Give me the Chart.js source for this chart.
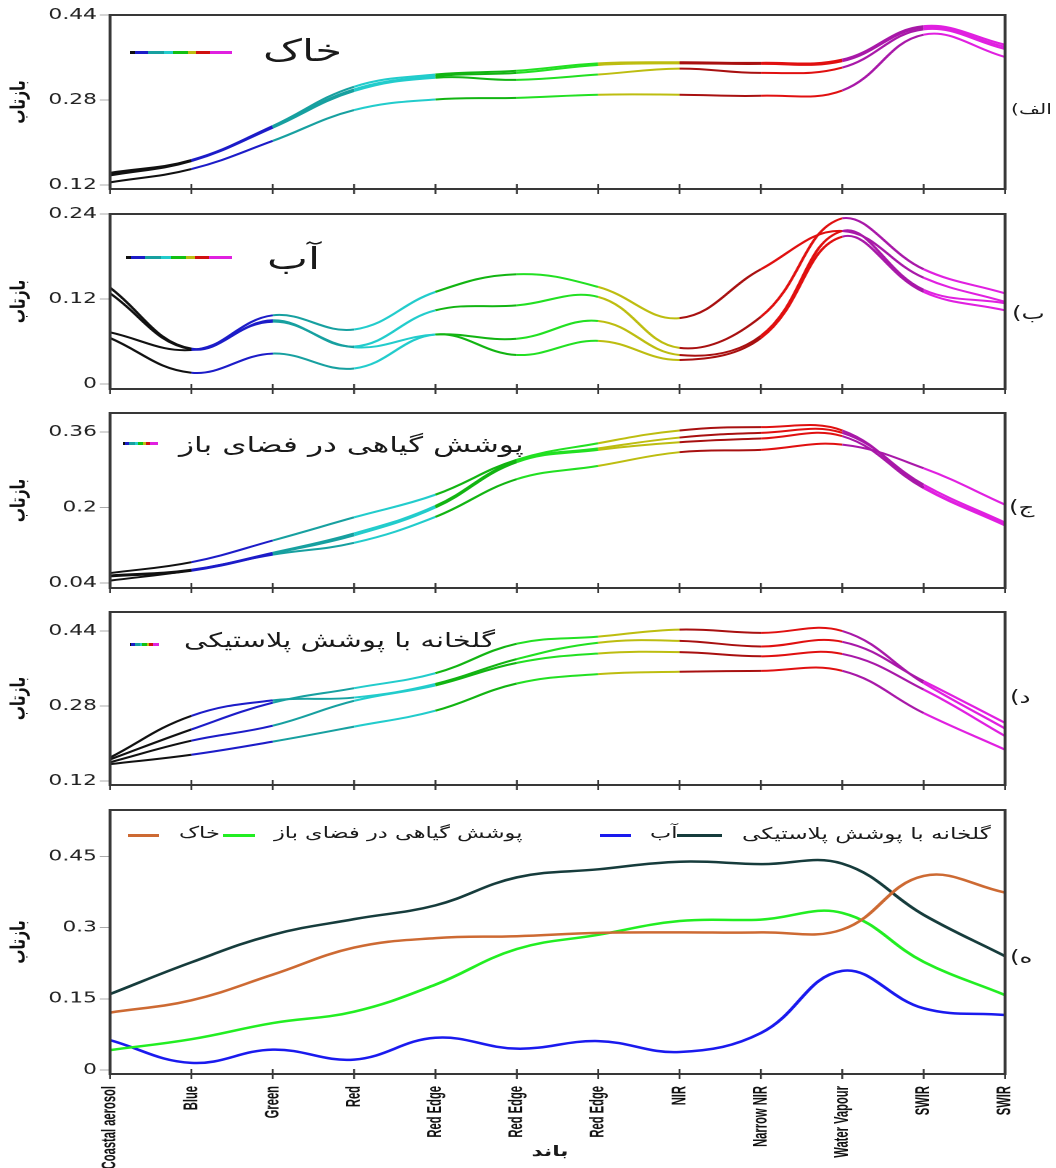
<!DOCTYPE html>
<html>
<head>
<meta charset="utf-8">
<script src="https://cdn.jsdelivr.net/npm/chart.js@4.4.1/dist/chart.umd.min.js"></script>
<style>
  html, body { margin: 0; padding: 0; background: #fff; }
  body { width: 1056px; height: 1168px; position: relative; overflow: hidden; font-family: 'DejaVu Sans', sans-serif; color: #1a1a1a; }
  #plots { position: absolute; left: 0; top: 0; width: 728px; height: 1168px; transform-origin: 0 0; }
  #plots canvas { position: absolute; left: 0; }
  .txt { position: absolute; white-space: nowrap; line-height: 1; }
  .bar { position: absolute; height: 3px; }
</style>
</head>
<body>
<div id="plots"></div>
<script>
"use strict";

// ---- data ----
const bands = ["Coastal aerosol", "Blue", "Green", "Red", "Red Edge", "Red Edge", "Red Edge",
               "NIR", "Narrow NIR", "Water Vapour", "SWIR", "SWIR"];

// colour of each band-to-band segment in the four upper panels
const bandColors = ["#111111", "#1c1cc8", "#17a0a0", "#22cccc", "#12b412", "#22e022",
                    "#bdbd10", "#a81010", "#e01010", "#a818a8", "#e020e0"];

// (الف) soil samples
const soil1 = [0.143, 0.167, 0.231, 0.305, 0.328, 0.335, 0.349, 0.351, 0.350, 0.356, 0.419, 0.384];
const soil2 = [0.140, 0.166, 0.229, 0.300, 0.325, 0.331, 0.346, 0.349, 0.348, 0.353, 0.416, 0.380];
const soil3 = [0.138, 0.165, 0.228, 0.297, 0.322, 0.318, 0.328, 0.339, 0.331, 0.341, 0.413, 0.376];
const soil4 = [0.125, 0.150, 0.203, 0.261, 0.281, 0.284, 0.290, 0.290, 0.288, 0.298, 0.403, 0.361];

// (ب) water samples
const water1 = [0.136, 0.050, 0.097, 0.077, 0.130, 0.155, 0.137, 0.093, 0.162, 0.216, 0.150, 0.116];
const water2 = [0.128, 0.049, 0.090, 0.053, 0.104, 0.111, 0.123, 0.051, 0.095, 0.234, 0.162, 0.128];
const water3 = [0.073, 0.048, 0.088, 0.052, 0.070, 0.064, 0.089, 0.041, 0.068, 0.216, 0.133, 0.114];
const water4 = [0.065, 0.016, 0.043, 0.022, 0.070, 0.041, 0.061, 0.034, 0.065, 0.208, 0.130, 0.104];

// (ج) open-field vegetation samples
const veg1 = [0.061, 0.084, 0.130, 0.179, 0.227, 0.301, 0.336, 0.363, 0.370, 0.363, 0.243, 0.165];
const veg2 = [0.056, 0.068, 0.104, 0.145, 0.203, 0.299, 0.325, 0.348, 0.358, 0.358, 0.248, 0.168];
const veg3 = [0.054, 0.066, 0.102, 0.141, 0.200, 0.296, 0.322, 0.338, 0.346, 0.351, 0.241, 0.162];
const veg4 = [0.045, 0.067, 0.100, 0.125, 0.180, 0.260, 0.288, 0.317, 0.322, 0.333, 0.283, 0.206];

// (د) plastic greenhouse samples
const gh1 = [0.166, 0.230, 0.287, 0.318, 0.350, 0.413, 0.428, 0.443, 0.436, 0.440, 0.329, 0.232];
const gh2 = [0.170, 0.259, 0.292, 0.298, 0.327, 0.380, 0.415, 0.419, 0.407, 0.417, 0.333, 0.244];
const gh3 = [0.160, 0.206, 0.238, 0.291, 0.324, 0.372, 0.392, 0.395, 0.386, 0.391, 0.315, 0.216];
const gh4 = [0.156, 0.176, 0.204, 0.236, 0.270, 0.328, 0.348, 0.353, 0.355, 0.355, 0.265, 0.187];

// (ه) class means
const meanSoil  = [0.121, 0.147, 0.201, 0.258, 0.278, 0.282, 0.289, 0.290, 0.290, 0.296, 0.409, 0.374];
const meanVeg   = [0.042, 0.065, 0.099, 0.123, 0.180, 0.255, 0.285, 0.314, 0.317, 0.331, 0.228, 0.158];
const meanWater = [0.063, 0.015, 0.043, 0.022, 0.068, 0.045, 0.061, 0.038, 0.078, 0.209, 0.130, 0.116];
const meanGh    = [0.160, 0.227, 0.285, 0.318, 0.347, 0.406, 0.423, 0.439, 0.434, 0.435, 0.327, 0.240];

const ticksSoil  = [0.12, 0.28, 0.44];
const ticksWater = [0, 0.12, 0.24];
const ticksVeg   = [0.04, 0.2, 0.36];
const ticksGh    = [0.12, 0.28, 0.44];
const ticksMean  = [0, 0.15, 0.3, 0.45];

const meanNames  = ["خاک", "پوشش گیاهی در فضای باز", "آب", "گلخانه با پوشش پلاستیکی"];

// ---- layout ----
// the figure is horizontally stretched; plots are drawn narrow and scaled up
const W = 728;
const S = 1056 / W;
const plotLeft = 110 / S;
const plotRight = 1005 / S;

const holder = document.getElementById("plots");
holder.style.transform = "scaleX(" + S + ")";

Chart.defaults.font.family = "'DejaVu Sans', sans-serif";
Chart.defaults.color = "#222";

// box round the plot, ticks crossing the x axis, and (bottom panel) band names
const frame = {
    id: "frame",
    afterDraw(chart, args, opts) {
        const ctx = chart.ctx;
        const a = chart.chartArea;
        const x = chart.scales.x;
        ctx.save();
        ctx.strokeStyle = "#383838";
        ctx.lineWidth = 2;
        ctx.strokeRect(a.left, a.top, a.right - a.left, a.bottom - a.top);
        ctx.lineWidth = 1.3;
        for (let i = 0; i < x.ticks.length; i++) {
            const px = x.getPixelForTick(i);
            ctx.beginPath();
            ctx.moveTo(px, a.bottom - 5);
            ctx.lineTo(px, a.bottom + 5);
            ctx.stroke();
        }
        if (opts.bandNames) {
            ctx.fillStyle = "#111";
            ctx.font = "bold 11.2px 'Liberation Sans', Arial, sans-serif";
            ctx.textAlign = "right";
            ctx.textBaseline = "middle";
            for (let i = 0; i < x.ticks.length; i++) {
                ctx.save();
                ctx.translate(x.getPixelForTick(i), a.bottom + 12);
                ctx.rotate(-Math.PI / 2);
                ctx.scale(1, 1.25);
                ctx.fillText(x.getLabelForValue(i), 0, 0);
                ctx.restore();
            }
        }
        ctx.restore();
    }
};

function makePanel(p, datasets, showBands) {
    const pad = 12;
    const axisH = showBands ? 1168 - p.bottom : 12;
    const canvas = document.createElement("canvas");
    canvas.width = W;
    canvas.height = p.bottom - p.top + pad + axisH;
    canvas.style.top = (p.top - pad) + "px";
    holder.appendChild(canvas);

    return new Chart(canvas, {
        type: "line",
        data: { labels: bands, datasets: datasets },
        options: {
            responsive: false,
            animation: false,
            devicePixelRatio: 2,
            layout: { padding: { top: pad, right: W - plotRight, left: 0, bottom: 0 } },
            plugins: {
                legend: { display: false },
                tooltip: { enabled: false },
                frame: { bandNames: showBands }
            },
            elements: { point: { radius: 0 }, line: { tension: 0.4, borderWidth: 2 } },
            scales: {
                x: {
                    offset: false,
                    grid: { display: false, drawTicks: false },
                    border: { display: false },
                    ticks: { display: false },
                    afterFit(s) { s.height = axisH; s.paddingLeft = 0; s.paddingRight = 0; }
                },
                y: {
                    min: p.min,
                    max: p.max,
                    grid: { drawOnChartArea: false, drawTicks: true, tickLength: 7, color: "#aaa" },
                    border: { display: false },
                    afterBuildTicks(s) { s.ticks = p.ticks.map(v => ({ value: v })); },
                    ticks: { padding: 2, color: "#222", font: { size: 15 }, callback: v => String(v) },
                    title: {
                        display: true,
                        text: "بازتاب",
                        color: "#111",
                        font: { size: 14, weight: "bold" },
                        padding: { top: 5, bottom: 0 }
                    },
                    afterFit(s) { s.width = plotLeft; s.paddingTop = 0; s.paddingBottom = 0; }
                }
            }
        },
        plugins: [frame]
    });
}

function bandLines(list) {
    return list.map(values => ({
        data: values,
        borderColor: bandColors[0],
        segment: { borderColor: c => bandColors[c.p0DataIndex] }
    }));
}

makePanel({ top: 15, bottom: 189, min: 0.1125, max: 0.44, ticks: ticksSoil },
          bandLines([soil4, soil3, soil2, soil1]), false);
makePanel({ top: 214, bottom: 389, min: -0.007, max: 0.24, ticks: ticksWater },
          bandLines([water4, water3, water2, water1]), false);
makePanel({ top: 413, bottom: 588, min: 0.0294, max: 0.40, ticks: ticksVeg },
          bandLines([veg4, veg3, veg2, veg1]), false);
makePanel({ top: 612, bottom: 785, min: 0.1115, max: 0.4805, ticks: ticksGh },
          bandLines([gh4, gh3, gh2, gh1]), false);

const meanColors = ["#cd6a33", "#22ee22", "#1a1aee", "#163c3c"];
makePanel({ top: 810, bottom: 1074, min: -0.0084, max: 0.548, ticks: ticksMean },
          [meanSoil, meanVeg, meanWater, meanGh].map((values, i) => ({
              label: meanNames[i],
              data: values,
              borderColor: meanColors[i],
              borderWidth: 2.5
          })), true);

// ---- overlay text (stretched like the plots) ----
function addText(str, x, y, size, opts) {
    const o = opts || {};
    const d = document.createElement("div");
    d.className = "txt";
    d.dir = "rtl";
    d.textContent = str;
    d.style.fontSize = size + "px";
    d.style.top = (y - size * 0.55) + "px";
    if (o.bold) d.style.fontWeight = "bold";
    if (o.center) {
        d.style.left = (x - 100) + "px";
        d.style.width = "200px";
        d.style.textAlign = "center";
        d.style.transformOrigin = "50% 50%";
    } else {
        d.style.left = x + "px";
        d.style.transformOrigin = "0 50%";
    }
    d.style.transform = "scaleX(" + S + ")";
    document.body.appendChild(d);
}

function addBar(x1, x2, y, bg) {
    const d = document.createElement("div");
    d.className = "bar";
    d.style.left = x1 + "px";
    d.style.width = (x2 - x1) + "px";
    d.style.top = (y - 1.5) + "px";
    d.style.background = bg;
    document.body.appendChild(d);
}

const rainbow = "linear-gradient(to right, #111 0 5%, #1c1cc8 5% 18%, #17a0a0 18% 33%, #22cccc 33% 42%, " +
                "#12c012 42% 57%, #bdbd10 57% 65%, #d01010 65% 78%, #e020e0 78% 100%)";

addBar(130, 232, 52, rainbow);
addText("خاک", 263, 52, 30);
addBar(126, 232, 257, rainbow);
addText("آب", 267, 260, 30);
addBar(123, 158, 443, rainbow);
addText("پوشش گیاهی در فضای باز", 179, 446, 21.5);
addBar(130, 159, 644, rainbow);
addText("گلخانه با پوشش پلاستیکی", 184, 641, 20);

// legend of the mean panel: line start, line end, text start
const legendSpots = [[128, 159, 179], [223, 255, 274], [600, 631, 650], [677, 722, 742]];
meanNames.forEach((name, i) => {
    const [x1, x2, tx] = legendSpots[i];
    addBar(x1, x2, 835, meanColors[i]);
    addText(name, tx, 835, i === 3 ? 16 : 15.5);
});

// panel letters
addText("الف)", 1011, 110, 14);
addText("ب)", 1012, 314, 17);
addText("ج)", 1009, 508, 17);
addText("د)", 1010, 698, 17);
addText("ه)", 1010, 958, 17);

addText("باند", 550, 1152, 15, { bold: true, center: true });
</script>
</body>
</html>
